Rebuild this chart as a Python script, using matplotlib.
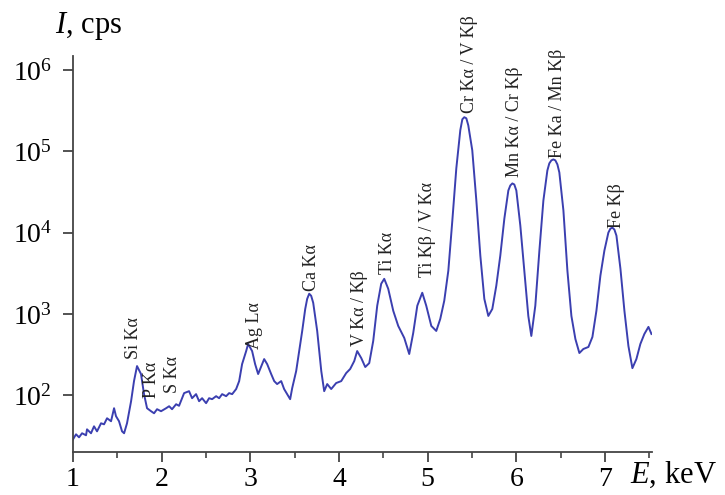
import matplotlib.pyplot as plt
from matplotlib.ticker import LogFormatterMathtext, MultipleLocator, NullLocator

plt.rcParams['font.family'] = ['Liberation Serif', 'DejaVu Serif']
plt.rcParams['mathtext.fontset'] = 'custom'
plt.rcParams['mathtext.rm'] = 'Liberation Serif'
plt.rcParams['mathtext.it'] = 'Liberation Serif:italic'

# spectrum: energy (keV) and intensity (cps)
energy = [1.000, 1.034, 1.068, 1.102, 1.147, 1.158, 1.203, 1.237, 1.271, 1.316,
          1.350, 1.384, 1.429, 1.463, 1.485, 1.519, 1.553, 1.576, 1.609, 1.655,
          1.688, 1.722, 1.767, 1.801, 1.835, 1.880, 1.914, 1.948, 1.993, 2.050,
          2.084, 2.117, 2.163, 2.196, 2.253, 2.309, 2.343, 2.388, 2.422, 2.456,
          2.501, 2.535, 2.569, 2.614, 2.648, 2.682, 2.727, 2.761, 2.795, 2.840,
          2.874, 2.907, 2.953, 2.975, 3.020, 3.054, 3.088, 3.133, 3.156, 3.190,
          3.235, 3.269, 3.302, 3.348, 3.381, 3.415, 3.449, 3.472, 3.517, 3.551,
          3.585, 3.619, 3.641, 3.664, 3.686, 3.709, 3.754, 3.80, 3.833, 3.867,
          3.912, 3.968, 4.025, 4.081, 4.126, 4.172, 4.205, 4.251, 4.296, 4.341,
          4.386, 4.431, 4.476, 4.510, 4.555, 4.612, 4.668, 4.736, 4.792, 4.837,
          4.883, 4.939, 4.984, 5.041, 5.097, 5.142, 5.187, 5.233, 5.278, 5.323,
          5.368, 5.391, 5.413, 5.436, 5.458, 5.503, 5.549, 5.594, 5.639, 5.684,
          5.729, 5.774, 5.819, 5.865, 5.910, 5.932, 5.955, 5.977, 6.00, 6.045,
          6.090, 6.135, 6.169, 6.214, 6.26, 6.305, 6.350, 6.372, 6.395, 6.418,
          6.440, 6.463, 6.485, 6.531, 6.576, 6.621, 6.666, 6.711, 6.756, 6.813,
          6.858, 6.903, 6.948, 6.993, 7.038, 7.061, 7.084, 7.106, 7.129, 7.174,
          7.219, 7.264, 7.309, 7.354, 7.399, 7.444, 7.490, 7.524]
intensity = [28.6, 33.0, 30.3, 34.0, 32.1, 38.0, 34.0, 41.4, 35.9, 45.1,
             43.8, 52.0, 47.8, 69.1, 55.1, 47.8, 35.9, 34.0, 45.1, 84.3,
             149, 228, 182, 103, 69.1, 63.5, 59.9, 67.2, 63.5, 69.1,
             73.1, 67.2, 77.4, 74.0, 106, 112, 91.8, 103, 84.3, 91.8,
             79.7, 91.8, 89.3, 97.2, 91.8, 103, 97.2, 106, 103, 119,
             149, 241, 349, 427, 349, 241, 182, 241, 278, 241,
             182, 149, 137, 149, 119, 103, 89.3, 122, 198, 349,
             617, 1150, 1530, 1770, 1670, 1370, 617, 198, 112, 137,
             119, 141, 149, 187, 210, 263, 349, 286, 222, 248,
             465, 1260, 2350, 2700, 2040, 1090, 711, 506, 321, 582,
             1260, 1820, 1260, 711, 617, 867, 1450, 3400, 14000, 61700,
             182000, 248000, 263000, 255000, 209000, 103000, 24800, 5200, 1530, 944,
             1150, 2220, 5200, 14900, 33000, 38000, 40300, 39100, 33000, 12200,
             3400, 944, 535, 1260, 6000, 24800, 58200, 71100, 77400, 79600,
             77400, 69100, 55000, 18700, 3400, 944, 491, 330, 370, 392,
             520, 1090, 2950, 6000, 10000, 11200, 11500, 10900, 9180, 3600,
             1090, 403, 215, 278, 427, 566, 692, 566]

# line labels and where their lower ends sit
line_names = ['Si Kα', 'P Kα', 'S Kα', 'Ag Lα', 'Ca Kα', 'V Kα / Kβ', 'Ti Kα',
              'Ti Kβ / V Kα', 'Cr Kα / V Kβ', 'Mn Kα / Cr Kβ', 'Fe Ka / Mn Kβ', 'Fe Kβ']
line_e = [1.677, 1.89, 2.117, 3.043, 3.686, 4.228, 4.544, 4.995, 5.47, 5.977, 6.463, 7.129]
line_i = [278, 92, 106, 370, 1920, 403, 3120, 2860, 294000, 47700, 82000, 11500]

fig = plt.figure(figsize=(7.25, 4.95), dpi=100)
ax = fig.add_axes([0.1007, 0.0869, 0.7986, 0.80])

ax.plot(energy, intensity, color='#3b3fb0', lw=1.4)
ax.set_yscale('log')
ax.set_xlim(1.0, 7.53)
ax.set_ylim(20, 1.49e6)

for name, e, i in zip(line_names, line_e, line_i):
    ax.text(e, i, name, rotation=90, ha='center', va='bottom', fontsize=13, color='#222222')

ax.xaxis.set_major_locator(MultipleLocator(1))
ax.xaxis.set_minor_locator(MultipleLocator(0.5))
ax.yaxis.set_major_locator(plt.FixedLocator([1e2, 1e3, 1e4, 1e5, 1e6]))
ax.yaxis.set_major_formatter(LogFormatterMathtext())
ax.yaxis.set_minor_locator(NullLocator())

for side in ['top', 'right']:
    ax.spines[side].set_visible(False)
for side in ['left', 'bottom']:
    ax.spines[side].set_linewidth(1.3)
    ax.spines[side].set_color('#444444')

ax.tick_params(which='major', direction='out', length=7, width=1.3, color='#444444',
               labelsize=20)
ax.tick_params(axis='x', which='major', pad=4)
ax.tick_params(axis='y', which='major', pad=8)
ax.tick_params(which='minor', direction='out', length=4, width=1.2, color='#444444')

fig.text(55 / 725, 1 - 33 / 495, '$I$, cps', fontsize=22, ha='left', va='baseline')
fig.text(630 / 725, 1 - 483 / 495, '$E$, keV', fontsize=22, ha='left', va='baseline')

fig.savefig('out.png', dpi=100)
